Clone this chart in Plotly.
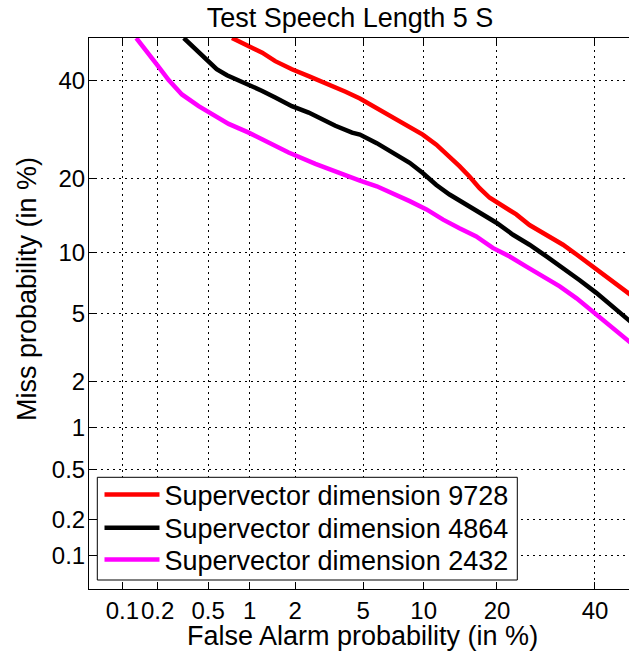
import plotly.graph_objects as go
from statistics import NormalDist

# ---- data (percent) ----
tick_vals = [0.1, 0.2, 0.5, 1, 2, 5, 10, 20, 40]
tick_text = ["0.1", "0.2", "0.5", "1", "2", "5", "10", "20", "40"]

fa_9728 = [0.75, 0.94, 1.22, 1.49, 1.91, 2.43, 3.2, 4.0, 4.8, 7.4, 8.6, 9.9, 11.4, 13.0, 14.3,
           15.7, 17.2, 18.8, 21.0, 23.4, 25.9, 29.3, 32.8, 35.8, 39.5, 43.4, 48.0, 50.0]
miss_9728 = [50.0, 48.5, 46.5, 44.5, 42.6, 41.0, 39.1, 37.4, 35.9, 31.3, 29.9, 28.2, 26.2, 24.0, 22.2,
             20.4, 18.5, 17.0, 15.7, 14.6, 13.2, 12.0, 10.85, 9.8, 8.6, 7.6, 6.4, 5.9]

fa_4864 = [0.325, 0.40, 0.49, 0.58, 0.69, 0.84, 1.0, 1.22, 1.49, 1.91, 2.43, 2.93, 3.5, 4.35, 4.8,
           5.9, 7.1, 8.6, 9.9, 11.4, 13.0, 15.3, 17.7, 19.9, 22.8, 25.9, 29.3, 32.8, 36.5, 40.3,
           44.2, 48.0, 50.0]
miss_4864 = [50.0, 47.3, 44.9, 42.6, 41.2, 40.0, 38.7, 37.6, 36.1, 34.2, 32.8, 31.3, 30.0, 28.6, 28.2,
             26.5, 24.6, 22.8, 21.0, 19.0, 17.5, 16.0, 14.6, 13.5, 12.0, 10.85, 9.6, 8.5, 7.4, 6.4,
             5.44, 4.6, 4.2]

fa_2432 = [0.132, 0.163, 0.197, 0.246, 0.314, 0.424, 0.567, 0.71, 0.985, 1.28, 1.82, 2.67, 3.82, 4.8,
           5.9, 7.1, 8.6, 10.3, 12.2, 14.3, 16.7, 19.3, 22.2, 25.3, 28.6, 32.1, 35.8, 39.5, 43.4,
           48.0, 50.0]
miss_2432 = [50.0, 46.9, 43.7, 40.1, 36.8, 34.2, 32.1, 30.4, 28.6, 26.9, 24.7, 22.6, 20.8, 19.7,
             18.8, 17.7, 16.5, 15.3, 13.9, 12.8, 11.8, 10.5, 9.6, 8.6, 7.7, 6.9, 6.0, 5.1, 4.25,
             3.5, 3.2]

series = [
    ("Supervector dimension 9728", fa_9728, miss_9728, "#ff0000"),
    ("Supervector dimension 4864", fa_4864, miss_4864, "#000000"),
    ("Supervector dimension 2432", fa_2432, miss_2432, "#ff00ff"),
]

nd = NormalDist()
def probit(vals):
    return [nd.inv_cdf(v / 100.0) for v in vals]

FONT = "Liberation Sans, Arial, sans-serif"

W, H = 629, 651
L, R, T, B = 89, 0, 38, 62
plot_w = W - L - R
plot_h = H - T - B
x_lo = nd.inv_cdf(0.0005)
px_per_unit = 166.6
x_hi = x_lo + plot_w / px_per_unit

def px_x(px):
    return (px - L) / plot_w
def px_y(py):
    return (H - B - py) / plot_h

legend_names = ["legend", "legend2", "legend3"]
legend_rows = [495, 528.3, 560]

fig = go.Figure()
for (name, fa, miss, col), lg in zip(series, legend_names):
    fig.add_trace(go.Scatter(x=probit(fa), y=probit(miss), mode="lines", name=name,
                             legend=lg, showlegend=True, line=dict(color=col, width=4.5)))

axis_common = dict(
    tickmode="array", tickvals=probit(tick_vals), ticktext=tick_text,
    showgrid=True, gridcolor="#000000", gridwidth=1, griddash="2px,4px",
    zeroline=False, showline=True, linecolor="#000000", linewidth=1,
    ticks="inside", ticklen=7, tickcolor="#000000", tickwidth=1,
    tickfont=dict(family=FONT, size=24, color="#000000"), tickangle=0,
    automargin=False,
)

legend_common = dict(xanchor="left", yanchor="middle", bgcolor="rgba(0,0,0,0)",
                     borderwidth=0, font=dict(family=FONT, size=27, color="#000000"),
                     itemwidth=55)

layout_legends = {}
for lg, row in zip(legend_names, legend_rows):
    layout_legends[lg] = dict(x=px_x(99.5), y=px_y(row), **legend_common)

fig.update_layout(
    width=W, height=H, showlegend=True,
    margin=dict(l=L, r=R, t=T, b=B, autoexpand=False),
    paper_bgcolor="white", plot_bgcolor="white",
    title=dict(text="Test Speech Length 5 S", x=350 / W, xref="container", xanchor="center",
               y=1 - 18 / H, yref="container", yanchor="middle",
               font=dict(family=FONT, size=27, color="#000000")),
    xaxis=dict(range=[x_lo, x_hi], mirror="ticks", ticklabelstandoff=0, **axis_common),
    yaxis=dict(range=[nd.inv_cdf(0.0005), 0], ticklabelstandoff=-2, **axis_common),
    shapes=[dict(type="rect", xref="paper", yref="paper",
                 x0=px_x(97.3), x1=px_x(517.3), y0=px_y(580), y1=px_y(477.3),
                 line=dict(color="#000000", width=1), fillcolor="white", layer="above")],
    annotations=[
        dict(text="False Alarm probability (in %)", xref="paper", yref="paper",
             x=px_x(362), y=px_y(636), xanchor="center", yanchor="middle",
             showarrow=False, font=dict(family=FONT, size=27, color="#000000")),
        dict(text="Miss probability (in %)", xref="paper", yref="paper",
             x=px_x(27), y=px_y(289), xanchor="center", yanchor="middle", textangle=-90,
             showarrow=False, font=dict(family=FONT, size=27, color="#000000")),
    ],
    **layout_legends,
)

fig.write_html("out.html", config={"displayModeBar": False},
               post_script="document.body.style.margin='0px';")
